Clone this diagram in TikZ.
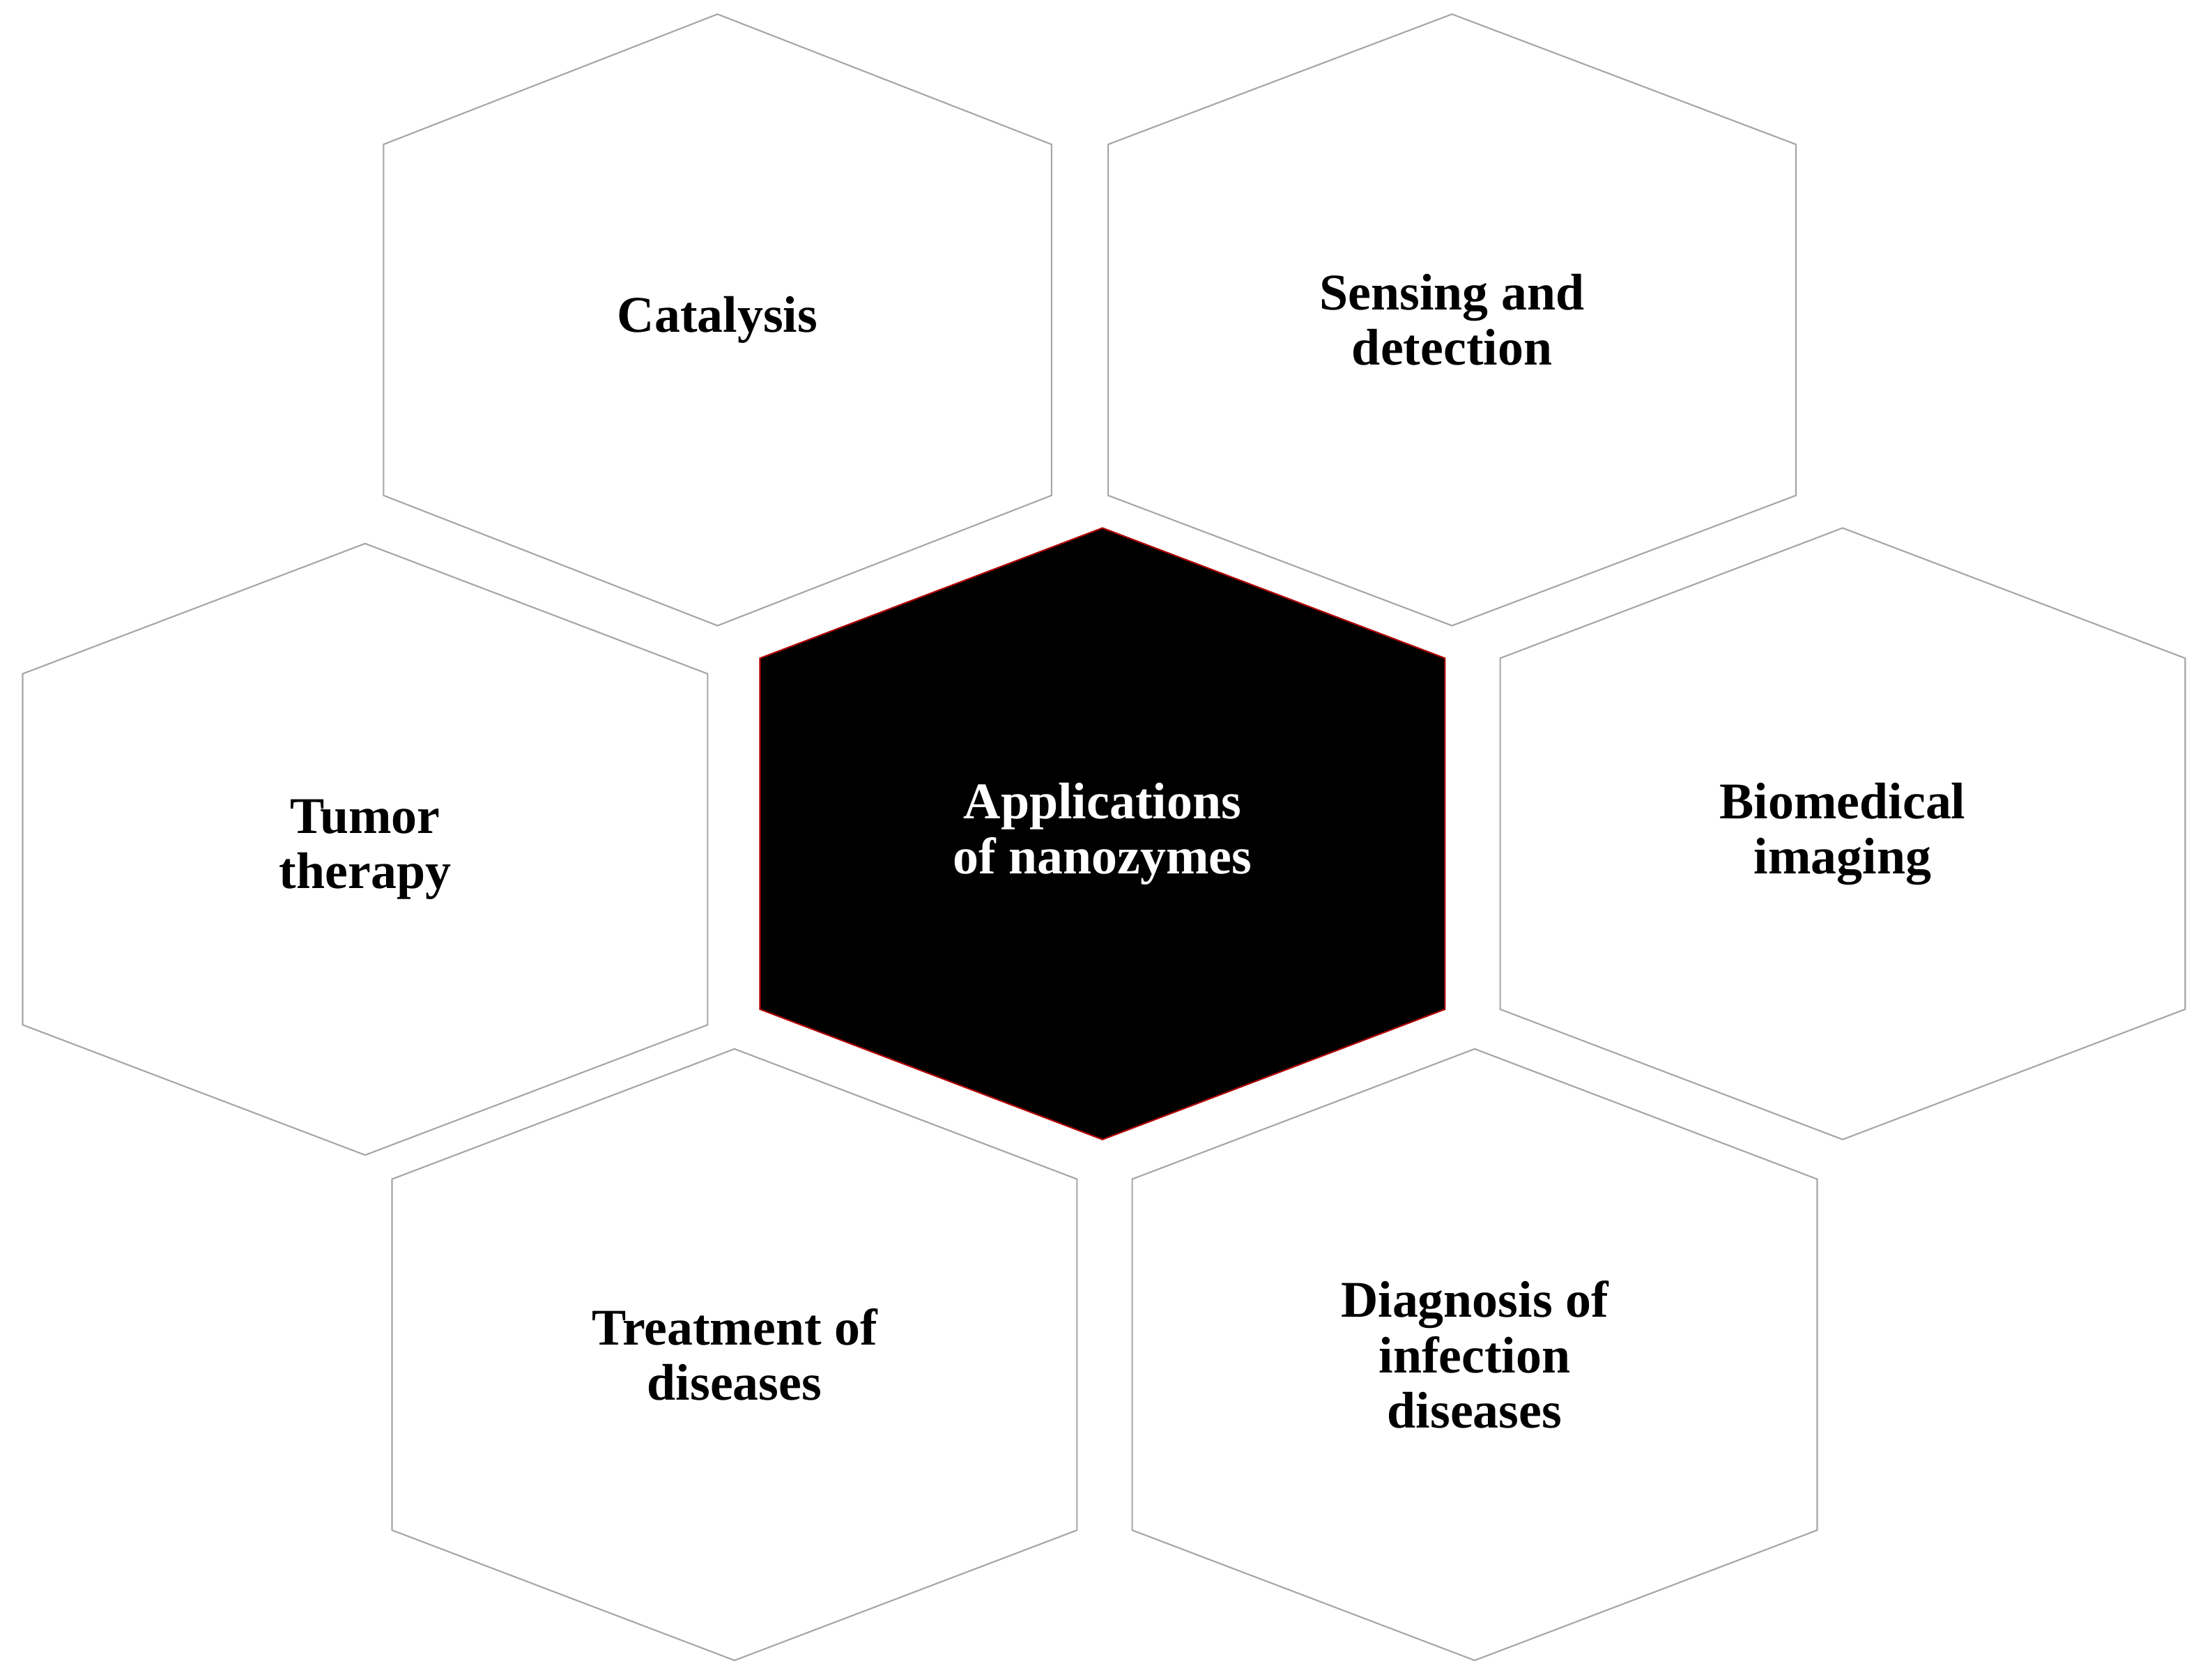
\documentclass[tikz,border=0pt]{standalone}
\usepackage{fontspec}
\setmainfont{Liberation Serif}
\usepackage{tikz}
\newcommand{\drawHex}[6]{% center: x,y; name, half width, style, text
  \draw[#5] (#1, #2-216) -- (#1+#4, #2-124) -- (#1+#4, #2+124) -- (#1, #2+216)
    -- (#1-#4, #2+124) -- (#1-#4, #2-124) -- cycle;
  \node[label text] (#3) at (#1, #2) {#6};
}
\tikzset{
  label text/.style={align=center, font=\fontsize{21}{22.5}\selectfont\bfseries, text=black},
  outer hex/.style={draw=gray!70, line width=0.6pt, fill=white},
  inner hex/.style={draw=red!70!black, line width=0.6pt, fill=black}
}
\begin{document}
\begin{tikzpicture}[x=0.0203cm, y=-0.0203cm]
\useasboundingbox (0,0) rectangle (1563,1183);

% Outer ring
\drawHex{507}{226}{catalysis}{236}{outer hex}{Catalysis}
\drawHex{1026}{226}{sensing}{243}{outer hex}{Sensing and\\detection}
\drawHex{258}{600}{tumor}{242}{outer hex}{Tumor\\therapy}
\drawHex{1302}{589}{imaging}{242}{outer hex}{Biomedical\\imaging}
\drawHex{519}{957}{treatment}{242}{outer hex}{Treatment of\\diseases}
\drawHex{1042}{957}{diagnosis}{242}{outer hex}{Diagnosis of\\infection\\diseases}

% Center
\drawHex{779}{589}{center}{242}{inner hex}{\textcolor{white}{Applications}\\\textcolor{white}{of nanozymes}}

\end{tikzpicture}
\end{document}
